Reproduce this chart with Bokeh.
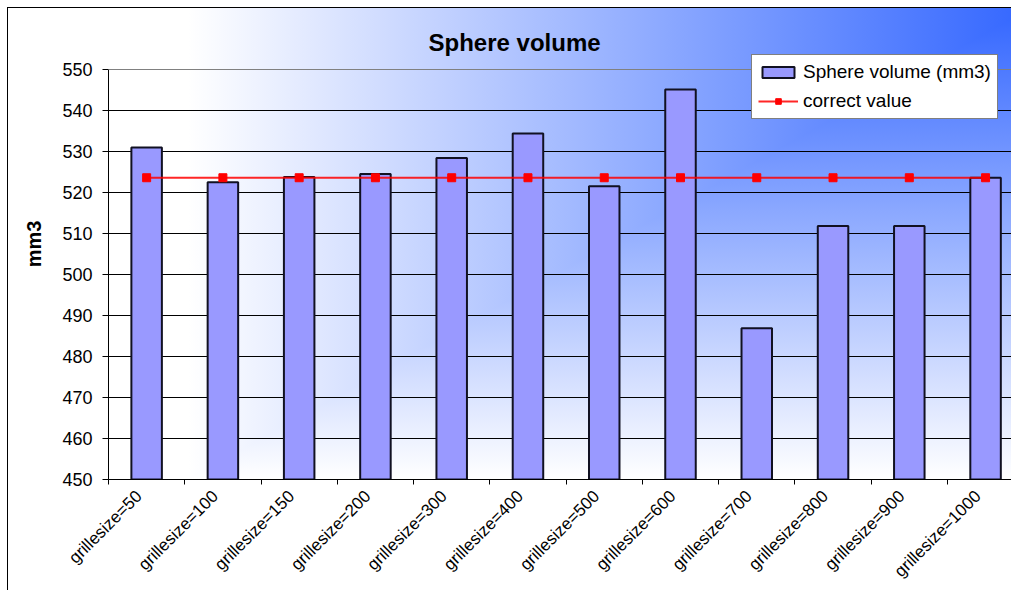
import math
from bokeh.plotting import figure
from bokeh.models import Range1d, FixedTicker, Legend, LegendItem, Span, Label
from bokeh.embed import file_html
from bokeh.resources import INLINE

# ---- data ----
categories = ["grillesize=50", "grillesize=100", "grillesize=150", "grillesize=200",
              "grillesize=300", "grillesize=400", "grillesize=500", "grillesize=600",
              "grillesize=700", "grillesize=800", "grillesize=900", "grillesize=1000"]
sphere_volume = [531.0, 522.5, 523.8, 524.5, 528.4, 534.4, 521.5, 545.1, 486.9, 511.8, 511.8, 523.6]
correct_value = [523.6] * 12
y_ticks = [450, 460, 470, 480, 490, 500, 510, 520, 530, 540, 550]

FONT = "Liberation Sans"
xs = list(range(len(categories)))

# layout geometry (pixels)
PX_PER_UNIT = 4.1          # 100 units over 410 px
FRAME_H = 471              # frame spans from top of figure down to the 450 baseline
y_top = y_ticks[0] + FRAME_H / PX_PER_UNIT
LABEL_SHIFT = 0.1          # rotated labels sit slightly left of the bar centre

p = figure(width=1003, height=582, output_backend="svg", toolbar_location=None,
           title=None,
           x_range=Range1d(-0.5, 11.34), y_range=Range1d(y_ticks[0], y_top),
           min_border_left=100, min_border_right=0, min_border_top=0, min_border_bottom=111)
p.margin = (8, 0, 0, 8)
p.background_fill_color = None
p.border_fill_color = None
p.outline_line_color = None
p.styles = {
    "background-image": "linear-gradient(to right, #ffffff 18%, #3366ff 102%), "
                        "linear-gradient(to top, #ffffff 19%, #3366ff 100%)",
    "background-blend-mode": "lighten",
    "outline": "1px solid #000000",
}

# plot-area top border (gray) at the axis maximum
p.add_layout(Span(location=y_ticks[-1], dimension="width", line_color="#808080", line_width=1))

bars = p.vbar(x=xs, top=sphere_volume, bottom=y_ticks[0], width=0.4,
              fill_color="#9999FF", line_color="#111122", line_width=2)
line = p.line(xs, correct_value, line_color="#FF0000", line_width=2, line_alpha=0.85)
pts = p.scatter(xs, correct_value, marker="square", size=8,
                fill_color="#FF0000", line_color="#FF0000")

# title as a label in the (extended) frame
title = Label(x=3.696, y=556.7, text="Sphere volume", text_align="left",
              text_baseline="alphabetic", text_font=FONT, text_font_size="24px",
              text_font_style="bold", text_color="#000000")
p.add_layout(title)

# x axis
label_ticks = [i - LABEL_SHIFT for i in xs]
xax = p.xaxis[0]
xax.ticker = FixedTicker(ticks=label_ticks,
                         minor_ticks=[i - 0.5 for i in range(len(categories) + 1)])
xax.major_label_overrides = {t: c for t, c in zip(label_ticks, categories)}
xax.major_label_orientation = math.pi / 4
xax.major_tick_out = 0
xax.major_tick_in = 0
xax.minor_tick_out = 5
xax.minor_tick_in = 0
xax.minor_tick_line_color = "#000000"
xax.axis_line_color = "#000000"
xax.major_label_text_font = FONT
xax.major_label_text_font_size = "17px"
xax.major_label_text_color = "#000000"
xax.major_label_standoff = 9

# y axis
yax = p.yaxis[0]
yax.ticker = FixedTicker(ticks=y_ticks)
yax.bounds = (y_ticks[0], y_ticks[-1])
yax.major_tick_out = 6
yax.major_tick_in = 0
yax.minor_tick_out = 0
yax.minor_tick_in = 0
yax.axis_line_color = "#000000"
yax.major_label_text_font = FONT
yax.major_label_text_font_size = "18px"
yax.major_label_text_color = "#000000"
yax.major_label_standoff = 10
yax.axis_label = "mm3"
yax.axis_label_text_font = FONT
yax.axis_label_text_font_size = "20px"
yax.axis_label_text_font_style = "bold"
yax.axis_label_text_color = "#000000"
yax.axis_label_standoff = 14

p.xgrid.visible = False
p.ygrid.ticker = FixedTicker(ticks=y_ticks[1:-1])
p.ygrid.grid_line_color = "#000000"
p.ygrid.grid_line_width = 1

legend = Legend(items=[LegendItem(label="Sphere volume (mm3)", renderers=[bars]),
                       LegendItem(label="correct value", renderers=[line, pts])],
                location=(643, 360))
legend.background_fill_color = "#FFFFFF"
legend.background_fill_alpha = 1
legend.border_line_color = "#000000"
legend.border_line_width = 1
legend.label_text_font = FONT
legend.label_text_font_size = "19px"
legend.label_text_color = "#000000"
legend.glyph_width = 40
legend.glyph_height = 14
legend.label_height = 22
legend.label_standoff = 5
legend.spacing = 7
legend.padding = 6
legend.margin = 0
p.add_layout(legend)

open("out.html", "w").write(file_html(p, INLINE))
